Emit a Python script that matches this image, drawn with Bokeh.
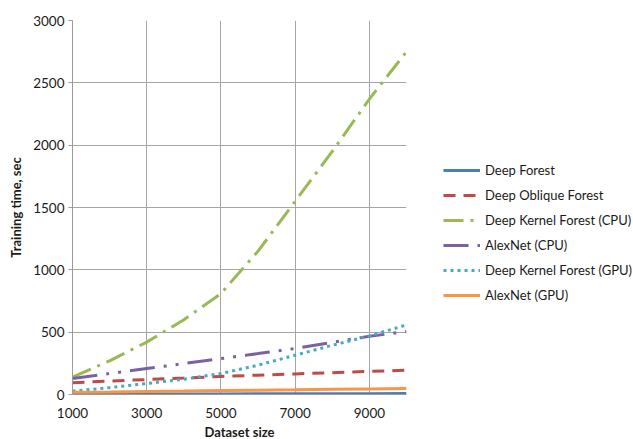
from bokeh.plotting import figure
from bokeh.models import Legend, LegendItem, Range1d, FixedTicker
from bokeh.embed import file_html
from bokeh.resources import INLINE

dataset_size = [1000, 2000, 3000, 4000, 5000, 6000, 7000, 8000, 9000, 10000]
deep_forest = [3, 4, 4, 5, 5, 6, 6, 7, 7, 8]
deep_oblique_forest = [95, 108, 120, 132, 145, 155, 165, 175, 185, 195]
dkf_cpu = [140, 270, 420, 600, 810, 1150, 1550, 1950, 2370, 2750]
alexnet_cpu = [128, 168, 208, 248, 288, 328, 369, 418, 467, 505]
dkf_gpu = [27, 55, 88, 123, 168, 235, 315, 395, 470, 558]
alexnet_gpu = [18, 21, 25, 28, 32, 35, 38, 42, 45, 48]

x_ticks = [1000, 3000, 5000, 7000, 9000]
y_ticks = [0, 500, 1000, 1500, 2000, 2500, 3000]

FONT = "Lato"
TXT = "#1a1a1a"

p = figure(frame_width=334, frame_height=374, output_backend="svg", toolbar_location=None,
           x_range=Range1d(1000, 10000), y_range=Range1d(0, 3000),
           min_border_left=72, min_border_right=227, min_border_top=20, min_border_bottom=45)
p.outline_line_color = None
p.background_fill_color = "white"
p.border_fill_color = "white"

for ax in (p.xaxis[0], p.yaxis[0]):
    ax.major_label_text_font = FONT
    ax.major_label_text_font_size = "13.5px"
    ax.major_label_text_color = TXT
    ax.axis_label_text_font = FONT
    ax.axis_label_text_font_size = "13px"
    ax.axis_label_text_font_style = "bold"
    ax.axis_label_text_color = TXT
    ax.axis_line_color = "#9a9a9a"
    ax.minor_tick_line_color = None

p.xaxis.ticker = FixedTicker(ticks=x_ticks)
p.yaxis.ticker = FixedTicker(ticks=y_ticks)
p.xaxis.axis_label = "Dataset size"
p.yaxis.axis_label = "Training time, sec"
p.xaxis.major_tick_line_color = None
p.yaxis.major_tick_line_color = "#9a9a9a"
p.yaxis.major_tick_out = 4
p.yaxis.major_tick_in = 0
p.xaxis.major_label_standoff = 7
p.xaxis.axis_label_standoff = 3
p.yaxis.major_label_standoff = 4
p.yaxis.axis_label_standoff = 6

p.xgrid.ticker = FixedTicker(ticks=x_ticks)
p.ygrid.ticker = FixedTicker(ticks=y_ticks)
p.grid.grid_line_color = "#a6a6a6"
p.grid.grid_line_width = 1

series = [
    ("Deep Forest", deep_forest, "#4a7ebb", "solid"),
    ("Deep Oblique Forest", deep_oblique_forest, "#be4b48", "12 8"),
    ("Deep Kernel Forest (CPU)", dkf_cpu, "#98b954", "20 7 3 7"),
    ("AlexNet (CPU)", alexnet_cpu, "#7d60a0", "25 9 3 9 3 9"),
    ("Deep Kernel Forest (GPU)", dkf_gpu, "#46aac5", "3 4"),
    ("AlexNet (GPU)", alexnet_gpu, "#f79646", "solid"),
]

items = []
for name, vals, color, dash in series:
    r = p.line(dataset_size, vals, line_color=color, line_width=3, line_dash=dash)
    items.append(LegendItem(label=name, renderers=[r]))

legend = Legend(items=items, location=(37, 89))
legend.label_text_font = FONT
legend.label_text_font_size = "13px"
legend.label_text_color = TXT
legend.glyph_width = 37
legend.glyph_height = 20
legend.label_height = 20
legend.spacing = 5
legend.padding = 5
legend.margin = 0
legend.label_standoff = 5
legend.border_line_color = None
legend.background_fill_alpha = 0
p.add_layout(legend, "right")

open("out.html", "w").write(file_html(p, INLINE))
